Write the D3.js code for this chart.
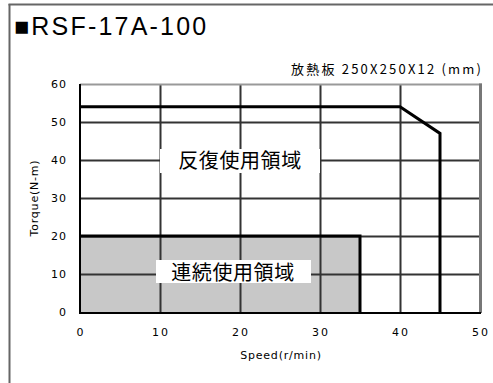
<!DOCTYPE html>
<html><head><meta charset="utf-8">
<script src="https://cdn.jsdelivr.net/npm/d3@7"></script>
<style>body{margin:0;background:#fff;}svg{display:block;}</style>
</head><body>
<script>
const title = "■RSF-17A-100";
const subtitle = "放熱板  250X250X12 (mm)";
const xTicks = [0, 10, 20, 30, 40, 50];
const yTicks = [0, 10, 20, 30, 40, 50, 60];
const repeatSpeed = [0, 40, 45, 45];
const repeatTorque = [54, 54, 47, 0];
const contSpeed = [0, 35, 35];
const contTorque = [20, 20, 0];
const repeatLabel = "反復使用領域";
const contLabel = "連続使用領域";
const xLabel = "Speed(r/min)";
const yLabel = "Torque(N-m)";

const W = 493, H = 383;
const svg = d3.select("body").append("svg").attr("width", W).attr("height", H);
const x = d3.scaleLinear().domain([0, 50]).range([80, 480]);
const y = d3.scaleLinear().domain([0, 60]).range([312, 84]);
const font = "'DejaVu Sans', 'Liberation Sans', sans-serif";
const cjk = "'Noto Sans CJK JP', sans-serif";

// outer frame
svg.append("rect").attr("x", 8.5).attr("y", 4).attr("width", 2).attr("height", H - 4).attr("fill", "#666");
svg.append("rect").attr("x", 8.5).attr("y", 3.5).attr("width", W - 8).attr("height", 2).attr("fill", "#666");

// title
svg.append("text").attr("x", 14).attr("y", 35).attr("font-family", "'Liberation Sans', Arial, sans-serif").attr("font-size", 25).attr("letter-spacing", 2.2).attr("fill","#000").text(title);
svg.append("text").attr("x", 481).attr("y", 74).attr("text-anchor","end").attr("font-family", cjk).attr("font-size", 13).attr("fill","#000").attr("textLength", 190).text(subtitle);

// continuous region fill
const contPts = contSpeed.map((s,i)=>[x(s), y(contTorque[i])]);
svg.append("path").attr("d", `M${x(0)},${y(0)} L` + contPts.map(p=>p.join(",")).join(" L") + " Z").attr("fill","#c8c8c8");

// grid
const innerY = yTicks.slice(1, -1);
const innerX = xTicks.slice(1, -1);
const grid = svg.append("g");
grid.selectAll("rect.h").data(innerY).enter().append("rect").attr("class","h")
  .attr("x", x(0)).attr("width", x(50) - x(0)).attr("y", d => Math.round(y(d)) - 0.5).attr("height", 2).attr("fill", "#333");
grid.selectAll("rect.v").data(innerX).enter().append("rect").attr("class","v")
  .attr("y", y(60)).attr("height", y(0) - y(60)).attr("x", d => Math.round(x(d)) - 0.5).attr("width", 2).attr("fill", "#333");

// border top/right (grey)
svg.append("rect").attr("x", x(0)).attr("y", y(60) - 0.5).attr("width", x(50) - x(0) + 2).attr("height", 2).attr("fill", "#999");
svg.append("line").attr("x1", x(50) + 0.5).attr("x2", x(50) + 0.5).attr("y1", y(60) - 0.5).attr("y2", y(0) + 1)
  .attr("stroke", "#777").attr("stroke-width", 3);

// axes lines
svg.append("rect").attr("x", x(0) - 1).attr("y", y(60)).attr("width", 2).attr("height", y(0) - y(60) + 1).attr("fill", "#000");
svg.append("rect").attr("x", x(0) - 1).attr("y", y(0)).attr("width", x(50) - x(0) + 2).attr("height", 2).attr("fill", "#000");

// boundary lines
const line = d3.line();
svg.append("path").attr("d", line(contPts)).attr("fill","none").attr("stroke","#000").attr("stroke-width",3);
svg.append("path").attr("d", line(repeatSpeed.map((s,i)=>[x(s), y(repeatTorque[i])]))).attr("fill","none").attr("stroke","#000").attr("stroke-width",3);

// region labels
svg.append("rect").attr("x",160).attr("y",149).attr("width",160).attr("height",24).attr("fill","#fff");
svg.append("text").attr("x",240).attr("y",168).attr("text-anchor","middle").attr("font-family",cjk).attr("font-size",20).attr("letter-spacing",0.6).attr("fill","#000").text(repeatLabel);
svg.append("rect").attr("x",156).attr("y",260).attr("width",155).attr("height",23).attr("fill","#fff");
svg.append("text").attr("x",233).attr("y",280).attr("text-anchor","middle").attr("font-family",cjk).attr("font-size",20).attr("letter-spacing",0.6).attr("fill","#000").text(contLabel);

// tick labels
svg.append("g").selectAll("text").data(yTicks).join("text")
  .attr("x", 67).attr("y", d=>y(d)+4).attr("text-anchor","end").attr("font-family",font).attr("font-size",11).attr("letter-spacing",1).attr("fill","#000").text(d=>d);
svg.append("g").selectAll("text").data(xTicks).join("text")
  .attr("x", d=>x(d)+1).attr("y", 336).attr("text-anchor","middle").attr("font-family",font).attr("font-size",11).attr("letter-spacing",2).attr("fill","#000").text(d=>d);

svg.append("text").attr("x", 281).attr("y", 359).attr("text-anchor","middle").attr("font-family",font).attr("font-size",11).attr("letter-spacing",0.8).attr("fill","#000").text(xLabel);
svg.append("text").attr("transform","translate(38,198) rotate(-90)").attr("text-anchor","middle").attr("font-family",font).attr("font-size",11).attr("letter-spacing",0.8).attr("fill","#000").text(yLabel);
</script>
</body></html>
